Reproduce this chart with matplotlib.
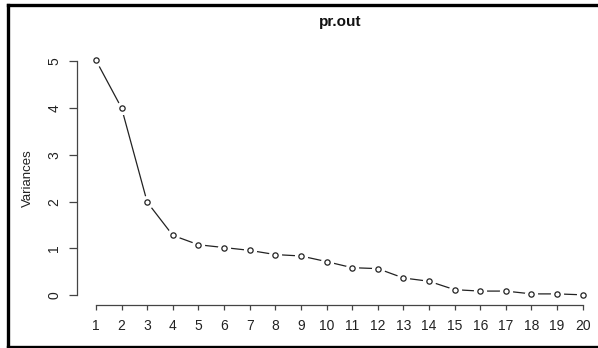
import matplotlib
matplotlib.use("Agg")
import matplotlib.pyplot as plt
from matplotlib.lines import Line2D

components = list(range(1, 21))
variances = [5.02, 4.00, 1.99, 1.28, 1.08, 1.02, 0.96, 0.87, 0.84, 0.72,
             0.59, 0.57, 0.37, 0.30, 0.12, 0.09, 0.09, 0.03, 0.03, 0.01]
yticks = [0, 1, 2, 3, 4, 5]
title = "pr.out"
ylabel = "Variances"

plt.rcParams['font.family'] = ['Liberation Sans', 'DejaVu Sans']

W, H = 598, 348
fig = plt.figure(figsize=(W / 100, H / 100), dpi=100)

# plot region in pixels (R-style, axis lines on the region edge)
left, right, top, bottom = 76.5, 602.2, 50.9, 304.7
ax = fig.add_axes([left / W, 1 - bottom / H, (right - left) / W, (bottom - top) / H])
ax.patch.set_alpha(0)

ax.plot(components, variances, color="#222222", lw=0.9, zorder=2, clip_on=False)
# white halo so the line stops short of each point, like R's type="b"
ax.plot(components, variances, ls="none", marker="o", ms=8.5, mfc="white",
        mec="white", zorder=3, clip_on=False)
ax.plot(components, variances, ls="none", marker="o", ms=3.8, mfc="white",
        mec="#222222", mew=0.9, zorder=4, clip_on=False)

ymax = max(variances)
ax.set_xlim(1 - 0.04 * 19, 20 + 0.04 * 19)
ax.set_ylim(-0.04 * ymax, ymax * 1.04)

for s in ["top", "right"]:
    ax.spines[s].set_visible(False)
ax.spines["left"].set_bounds(0, 5)
ax.spines["bottom"].set_bounds(1, 20)
for s in ["left", "bottom"]:
    ax.spines[s].set_color("#444444")
    ax.spines[s].set_linewidth(0.9)

ax.set_xticks(components)
ax.set_xticklabels([str(c) for c in components])
ax.set_yticks(yticks)
ax.set_yticklabels([str(t) for t in yticks], rotation=90, va="center")
ax.tick_params(axis="x", length=3.8, width=0.9, color="#444444", pad=6.5,
               labelsize=10, labelcolor="#222222")
ax.tick_params(axis="y", length=5.5, width=0.9, color="#444444", pad=5.5,
               labelsize=10, labelcolor="#222222")

fig.text(340 / W, 1 - 22 / H, title, ha="center", va="center",
         fontsize=11, fontweight="bold", color="#111111")
fig.text(28 / W, 1 - 178 / H, ylabel, ha="center", va="center",
         rotation=90, fontsize=9.5, color="#222222")

# outer frame: top, left, bottom (right edge is cut off in the reference)
frame = [((8, 4.5), (598, 4.5)), ((8, 4.5), (8, 346.5)),
         ((8, 346.5), (598, 346.5))]
for (x0, y0), (x1, y1) in frame:
    fig.add_artist(Line2D([x0, x1], [H - y0, H - y1], transform=None,
                          color="black", lw=2.4, solid_capstyle="projecting",
                          zorder=10))

fig.savefig("out.png", dpi=100)
